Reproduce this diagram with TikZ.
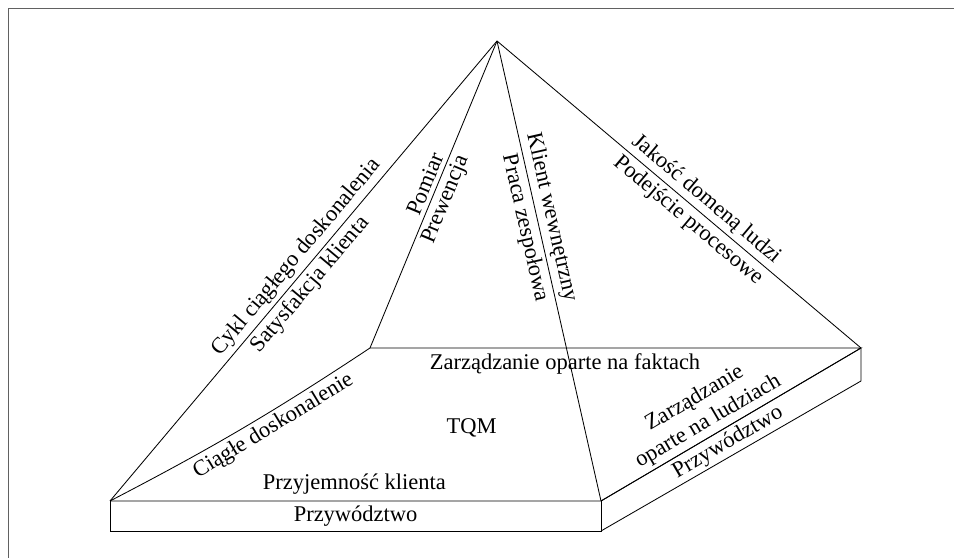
\documentclass[tikz,border=0pt]{standalone}
\usepackage{fontspec}
\setmainfont{Liberation Serif}
\usetikzlibrary{positioning}

\tikzset{
  edge/.style={line width=0.6pt},
  frame/.style={line width=1pt, draw=black!62},
  lbl/.style={font=\fontsize{16}{19}\selectfont, inner sep=2.5pt}
}

\begin{document}
\begin{tikzpicture}
\useasboundingbox (0,0) rectangle (23.85,13.95);

% ramka
\coordinate (ftl) at (0.2125,13.74);
\coordinate (ftr) at (23.85,13.74);
\coordinate (fbl) at (0.2125,0);
\draw[frame] (fbl) -- (ftl) -- (ftr);

% wierzcholki
\coordinate (apex) at (12.425,12.925);
\coordinate (fl) at (2.75,1.425);
\coordinate (fr) at (15.025,1.425);
\coordinate (br) at (21.525,5.25);
\coordinate (bl) at (9.25,5.25);
\coordinate (flb) at (2.75,0.675);
\coordinate (frb) at (15.025,0.675);
\coordinate (brb) at (21.525,4.425);

% podstawa
\draw[edge] (fl) -- (fr) -- (br) -- (bl);
\draw[edge] (fl) -- (flb) -- (frb) -- (fr);
\draw[edge] (frb) -- (brb) -- (br);
\draw[edge] (fl) to[bend right=3] node[lbl, pos=0.6, below, sloped] (ciagle) {Ciągłe doskonalenie} (bl);
\draw[edge] (fr) -- node[lbl, pos=0.44, above, sloped, align=center] (zarludzie) {Zarządzanie\\oparte na ludziach} (br);

% krawedzie piramidy
\draw[edge] (fl) -- node[lbl, pos=0.51, above, sloped] (cykl) {Cykl ciągłego doskonalenia}
  node[lbl, pos=0.49, below, sloped] (satys) {Satysfakcja klienta} (apex);
\draw[edge] (bl) -- node[lbl, pos=0.52, above, sloped] (pomiar) {Pomiar}
  node[lbl, pos=0.50, below, sloped] (prewencja) {Prewencja} (apex);
\draw[edge] (apex) -- node[lbl, pos=0.39, above, sloped] (klient) {Klient wewnętrzny}
  node[lbl, pos=0.40, below, sloped] (praca) {Praca zespołowa} (fr);
\draw[edge] (apex) -- node[lbl, pos=0.55, above, sloped] (jakosc) {Jakość domeną ludzi}
  node[lbl, pos=0.55, below, sloped] (podejscie) {Podejście procesowe} (br);

% napisy
\node[lbl] (fakty) at (14.125,4.85) {Zarządzanie oparte na faktach};
\node[lbl] (tqm) at (11.79,3.25) {TQM};
\node[lbl] (przyj) at (8.86,1.85) {Przyjemność klienta};
\node[lbl] (przyw) at (8.89,1.05) {Przywództwo};
\node[lbl, rotate=30.3] (przyw2) at (18.2,2.88) {Przywództwo};
\end{tikzpicture}
\end{document}
